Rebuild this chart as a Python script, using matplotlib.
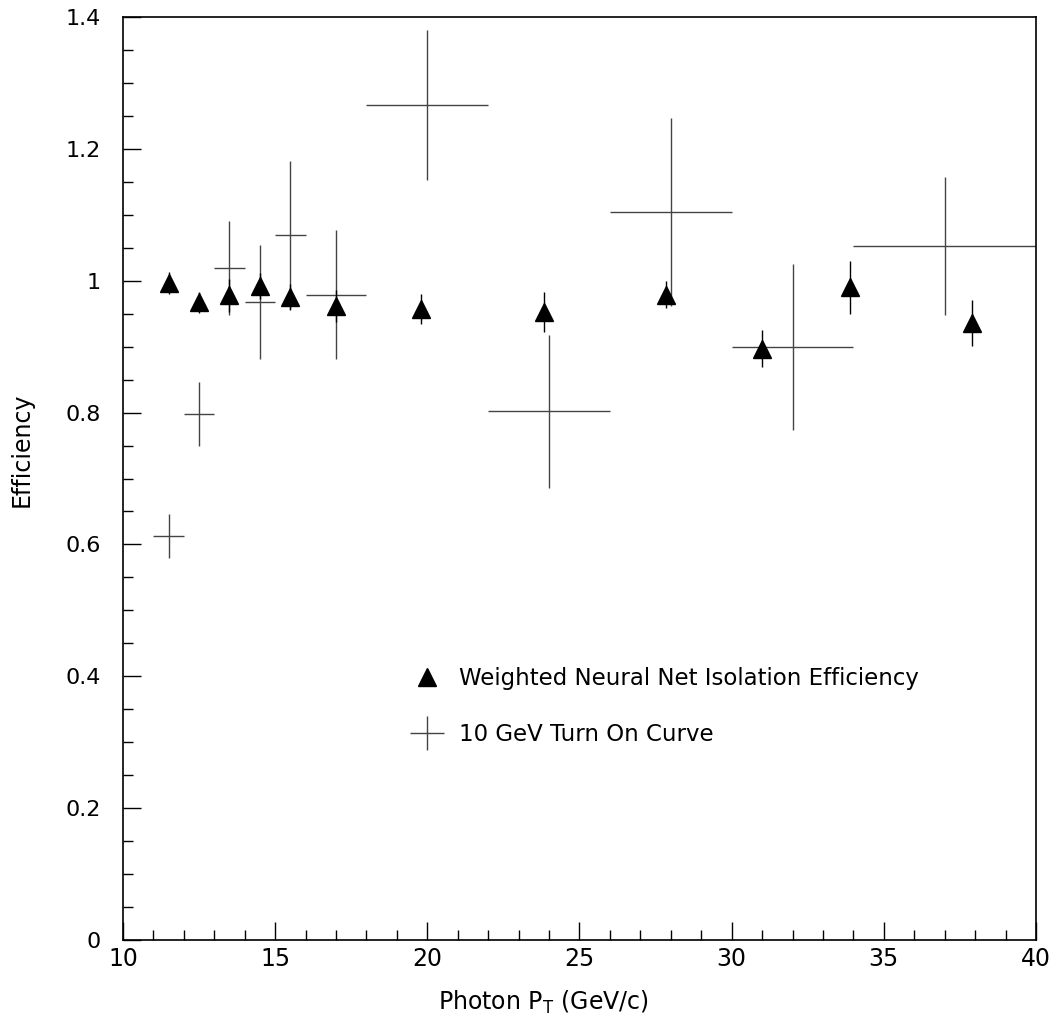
import matplotlib
matplotlib.use("Agg")
import matplotlib.pyplot as plt
from matplotlib.lines import Line2D
from matplotlib.ticker import MultipleLocator, FuncFormatter

# Weighted Neural Net Isolation Efficiency (triangles)
nn_x = [11.5, 12.5, 13.5, 14.5, 15.5, 17.0, 19.8, 23.85, 27.85, 31.0, 33.9, 37.9]
nn_y = [0.997, 0.967, 0.978, 0.992, 0.975, 0.962, 0.957, 0.953, 0.979, 0.897, 0.990, 0.936]
nn_err = [0.017, 0.016, 0.025, 0.020, 0.020, 0.024, 0.023, 0.030, 0.020, 0.028, 0.040, 0.035]

# 10 GeV Turn On Curve (crosses)
to_x = [11.5, 12.5, 13.5, 14.5, 15.5, 17.0, 20.0, 24.0, 28.0, 32.0, 37.0]
to_xerr = [0.5, 0.5, 0.5, 0.5, 0.5, 1.0, 2.0, 2.0, 2.0, 2.0, 3.0]
to_y = [0.613, 0.798, 1.019, 0.968, 1.069, 0.979, 1.267, 0.802, 1.104, 0.899, 1.053]
to_yerr = [0.033, 0.049, 0.071, 0.086, 0.112, 0.098, 0.114, 0.116, 0.143, 0.126, 0.105]

x_label = "Photon P$_{\\mathregular{T}}$ (GeV/c)"
y_label = "Efficiency"
leg_labels = ["Weighted Neural Net Isolation Efficiency", "10 GeV Turn On Curve"]

font = ["DejaVu Sans"]

fig = plt.figure(figsize=(10.59, 10.19), dpi=100)
ax = fig.add_axes([0.1161, 0.0775, 0.8622, 0.9058])

ax.errorbar(to_x, to_y, xerr=to_xerr, yerr=to_yerr, fmt="none",
            ecolor="#444444", elinewidth=1.0, capsize=0)
ax.errorbar(nn_x, nn_y, yerr=nn_err, fmt="^", color="black", ms=13,
            ecolor="black", elinewidth=1.0, capsize=0)

ax.set_xlim(10, 40)
ax.set_ylim(0, 1.4)

ax.xaxis.set_major_locator(MultipleLocator(5))
ax.xaxis.set_minor_locator(MultipleLocator(1))
ax.yaxis.set_major_locator(MultipleLocator(0.2))
ax.yaxis.set_minor_locator(MultipleLocator(0.05))

ax.tick_params(axis="both", which="both", direction="in", top=False, right=False,
               color="black")
ax.tick_params(axis="both", which="major", length=13, width=1)
ax.tick_params(axis="both", which="minor", length=7, width=1)
ax.tick_params(axis="y", which="major", pad=16, labelsize=16)
ax.tick_params(axis="x", which="major", pad=5, labelsize=17)

ax.yaxis.set_major_formatter(FuncFormatter(
    lambda v, p: "0" if abs(v) < 1e-9 else ("1" if abs(v - 1) < 1e-9 else f"{v:.1f}")))

for s in ax.spines.values():
    s.set_linewidth(1.2)

ax.set_xlabel(x_label, fontsize=17, family=font)
ax.xaxis.set_label_coords(0.461, -0.053)
ax.set_ylabel(y_label, fontsize=17, family=font)
ax.yaxis.set_label_coords(-0.098, 0.531)

handles = [
    Line2D([], [], marker="^", color="black", linestyle="none", ms=13),
    Line2D([], [], marker="+", color="#444444", linestyle="none", ms=24, mew=1.0),
]
leg = ax.legend(handles, leg_labels, loc="upper left",
                bbox_to_anchor=(0.295, 0.318), frameon=False,
                prop={"family": font, "size": 16.5}, handlelength=1.2,
                handletextpad=0.8, labelspacing=1.45)

fig.savefig("out.png", dpi=100)
